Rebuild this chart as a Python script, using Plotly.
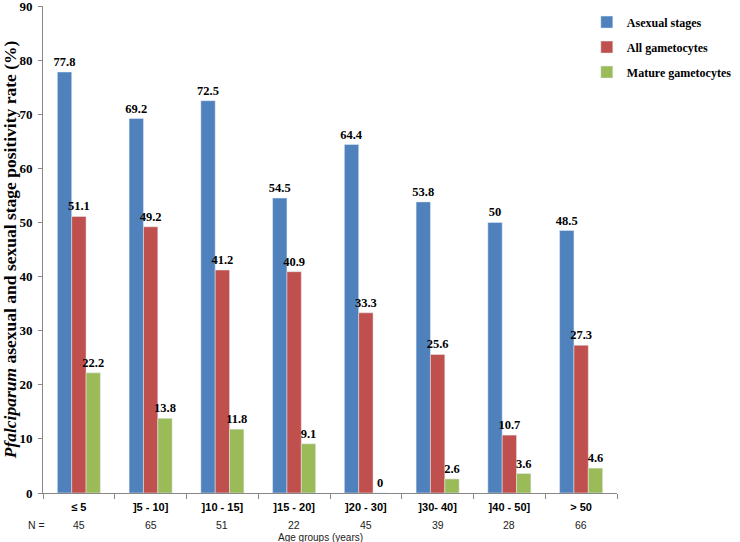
import plotly.graph_objects as go

categories = ["≤ 5", "]5 - 10]", "]10 - 15]", "]15 - 20]", "]20 - 30]", "]30- 40]", "]40 - 50]", "> 50"]
n_values = [45, 65, 51, 22, 45, 39, 28, 66]
asexual = [77.8, 69.2, 72.5, 54.5, 64.4, 53.8, 50, 48.5]
all_gam = [51.1, 49.2, 41.2, 40.9, 33.3, 25.6, 10.7, 27.3]
mature_gam = [22.2, 13.8, 11.8, 9.1, 0, 2.6, 3.6, 4.6]

series = [
    ("Asexual stages", asexual, "#4F81BD"),
    ("All gametocytes", all_gam, "#C0504D"),
    ("Mature gametocytes", mature_gam, "#9BBB59"),
]

fig = go.Figure()
for name, vals, col in series:
    fig.add_trace(go.Bar(
        x=categories, y=vals, name=name, marker_color=col, legendgroup=name,
        text=[f"{v:g}" for v in vals], textposition="outside",
        textfont=dict(family="Liberation Serif", size=12.5, color="black", weight="bold"),
        constraintext="none",
        cliponaxis=False,
    ))

sans = dict(family="Liberation Sans", size=10.5, color="#222")
annotations = [dict(x=c, y=0, xref="x", yref="paper", yanchor="middle", yshift=-32,
                    text=str(n), showarrow=False, font=sans)
               for c, n in zip(categories, n_values)]
annotations.append(dict(x=-0.03, y=0, xref="paper", yref="paper", yanchor="middle",
                        yshift=-32, text="N =", showarrow=False, font=sans))
annotations.append(dict(x=0.483, y=0, xref="paper", yref="paper", yanchor="middle",
                        yshift=-44, text="Age groups (years)", showarrow=False,
                        font=dict(family="Liberation Sans", size=10, color="#222")))

fig.update_layout(
    width=740, height=542,
    margin=dict(l=43, r=123, t=6, b=49, autoexpand=False),
    paper_bgcolor="white", plot_bgcolor="white",
    barmode="group", bargap=0.4, bargroupgap=0,
    showlegend=True,
    legend=dict(xref="container", yref="container", x=0.793, y=0.986,
                xanchor="left", yanchor="top",
                font=dict(family="Liberation Serif", size=12, color="black", weight="bold"),
                itemwidth=30, tracegroupgap=6, bgcolor="rgba(0,0,0,0)"),
    xaxis=dict(showline=True, linecolor="#888", ticks="outside", tickson="boundaries",
               ticklen=5, tickcolor="#888", ticklabelstandoff=4,
               tickfont=dict(family="Liberation Sans", size=11, color="black", weight="bold")),
    yaxis=dict(range=[0, 90], tickvals=[0, 10, 20, 30, 40, 50, 60, 70, 80, 90],
               showline=True, linecolor="#888", ticks="outside", ticklabeloverflow="allow",
               ticklen=4, tickcolor="#888", showgrid=False, zeroline=False,
               ticklabelstandoff=3,
               tickfont=dict(family="Liberation Serif", size=13, color="black", weight="bold"),
               title=dict(text="<i>Pfalciparum</i> asexual and sexual stage positivity rate (%)",
                          font=dict(family="Liberation Serif", size=17.5, color="black", weight="bold"),
                          standoff=4)),
    annotations=annotations,
)
fig.write_html("out.html", config={"displayModeBar": False},
               post_script="document.body.style.margin='0';")
